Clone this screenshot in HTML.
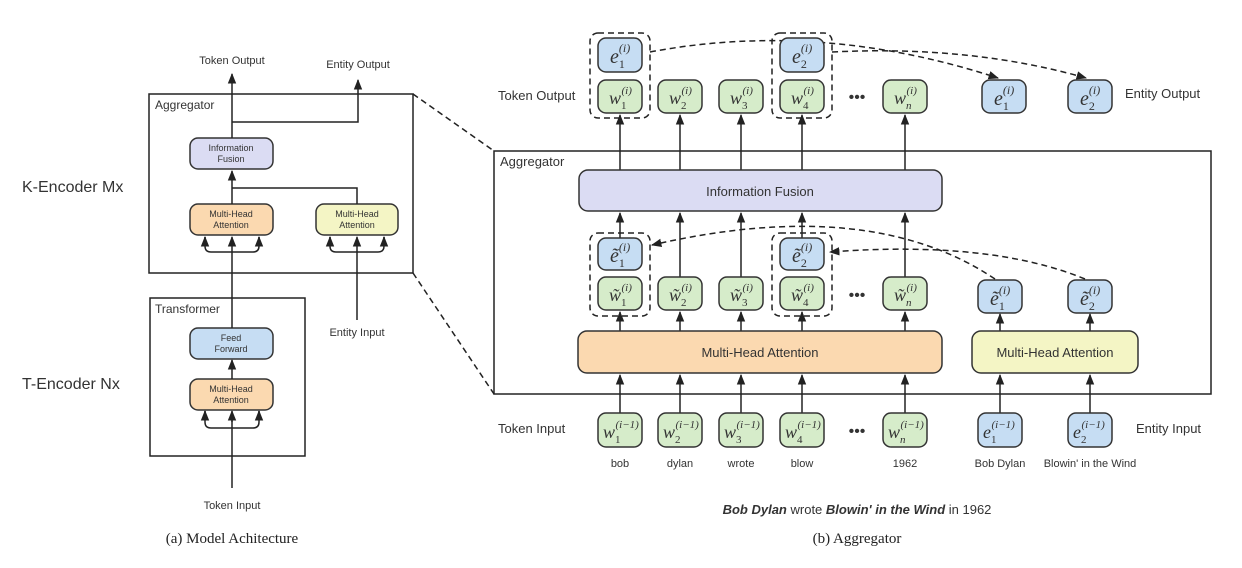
<!DOCTYPE html>
<html><head><meta charset="utf-8"><style>
body{margin:0;background:#fff}
svg{display:block}
.s{font-family:"Liberation Sans",sans-serif;fill:#333}
.m{font-family:"Liberation Serif",serif;font-style:italic;fill:#333}
.g{fill:#d6ecca;stroke:#333;stroke-width:1.5}
.b{fill:#c6ddf3;stroke:#333;stroke-width:1.5}
.l{fill:#dbdcf3;stroke:#333;stroke-width:1.5}
.o{fill:#fbd9b0;stroke:#333;stroke-width:1.5}
.y{fill:#f4f5c5;stroke:#333;stroke-width:1.5}
.ln{stroke:#222;stroke-width:1.5;fill:none}
.d{stroke:#222;stroke-width:1.5;fill:none;stroke-dasharray:6 4}
</style></head><body>
<svg width="1242" height="568" viewBox="0 0 1242 568" xmlns="http://www.w3.org/2000/svg">
<defs><marker id="a" viewBox="0 0 10 10" refX="9" refY="5" markerWidth="7" markerHeight="7" orient="auto-start-reverse"><path d="M0,1 L10,5 L0,9 z" fill="#222"/></marker></defs>

<!-- LEFT PANEL -->
<rect x="149" y="94" width="264" height="179" class="ln"/>
<rect x="150" y="298" width="155" height="158" class="ln"/>
<text x="155" y="109" class="s" font-size="12">Aggregator</text>
<text x="155" y="313" class="s" font-size="12">Transformer</text>
<text x="22" y="192" class="s" font-size="16">K-Encoder  Mx</text>
<text x="22" y="389" class="s" font-size="16">T-Encoder  Nx</text>
<text x="232" y="64" class="s" font-size="11" text-anchor="middle">Token Output</text>
<text x="358" y="68" class="s" font-size="11" text-anchor="middle">Entity Output</text>
<text x="232" y="509" class="s" font-size="11" text-anchor="middle">Token Input</text>
<text x="357" y="336" class="s" font-size="11" text-anchor="middle">Entity Input</text>

<line x1="232" y1="488" x2="232" y2="411" class="ln" marker-end="url(#a)"/>
<path d="M232,422 L232,416 M205,411 L205,422 Q205,428 211,428 L253,428 Q259,428 259,422 L259,411" class="ln"/>
<line x1="205" y1="420" x2="205" y2="411" class="ln" marker-end="url(#a)"/>
<line x1="259" y1="420" x2="259" y2="411" class="ln" marker-end="url(#a)"/>
<rect x="190" y="379" width="83" height="31" rx="8" class="o"/>
<text x="231" y="392" class="s" font-size="9" text-anchor="middle">Multi-Head</text>
<text x="231" y="403" class="s" font-size="9" text-anchor="middle">Attention</text>
<line x1="232" y1="379" x2="232" y2="360" class="ln" marker-end="url(#a)"/>
<rect x="190" y="328" width="83" height="31" rx="8" class="b"/>
<text x="231" y="341" class="s" font-size="9" text-anchor="middle">Feed</text>
<text x="231" y="352" class="s" font-size="9" text-anchor="middle">Forward</text>
<line x1="232" y1="328" x2="232" y2="237" class="ln" marker-end="url(#a)"/>
<path d="M205,237 L205,246 Q205,252 211,252 L253,252 Q259,252 259,246 L259,237" class="ln"/>
<line x1="205" y1="244" x2="205" y2="237" class="ln" marker-end="url(#a)"/>
<line x1="259" y1="244" x2="259" y2="237" class="ln" marker-end="url(#a)"/>
<rect x="190" y="204" width="83" height="31" rx="8" class="o"/>
<text x="231" y="217" class="s" font-size="9" text-anchor="middle">Multi-Head</text>
<text x="231" y="228" class="s" font-size="9" text-anchor="middle">Attention</text>
<line x1="357" y1="320" x2="357" y2="237" class="ln" marker-end="url(#a)"/>
<path d="M330,237 L330,246 Q330,252 336,252 L378,252 Q384,252 384,246 L384,237" class="ln"/>
<line x1="330" y1="244" x2="330" y2="237" class="ln" marker-end="url(#a)"/>
<line x1="384" y1="244" x2="384" y2="237" class="ln" marker-end="url(#a)"/>
<rect x="316" y="204" width="82" height="31" rx="8" class="y"/>
<text x="357" y="217" class="s" font-size="9" text-anchor="middle">Multi-Head</text>
<text x="357" y="228" class="s" font-size="9" text-anchor="middle">Attention</text>
<line x1="232" y1="204" x2="232" y2="171" class="ln" marker-end="url(#a)"/>
<path d="M357,204 L357,188 L232,188" class="ln"/>
<rect x="190" y="138" width="83" height="31" rx="8" class="l"/>
<text x="231" y="151" class="s" font-size="9" text-anchor="middle">Information</text>
<text x="231" y="162" class="s" font-size="9" text-anchor="middle">Fusion</text>
<line x1="232" y1="138" x2="232" y2="74" class="ln" marker-end="url(#a)"/>
<path d="M232,122 L358,122 L358,80" class="ln" marker-end="url(#a)"/>
<text x="232" y="543" font-family="Liberation Serif,serif" font-size="15" fill="#222" text-anchor="middle">(a) Model Achitecture</text>

<!-- zoom lines -->
<line x1="413" y1="94" x2="494" y2="151" class="d"/>
<line x1="413" y1="273" x2="494" y2="394" class="d"/>

<!-- RIGHT PANEL -->
<rect x="494" y="151" width="717" height="243" class="ln"/>
<text x="500" y="166" class="s" font-size="13">Aggregator</text>
<text x="498" y="100" class="s" font-size="13">Token Output</text>
<text x="1125" y="98" class="s" font-size="13">Entity Output</text>
<text x="498" y="433" class="s" font-size="13">Token Input</text>
<text x="1136" y="433" class="s" font-size="13">Entity Input</text>

<!-- arrows input -> MHA -->
<g class="ln">
<line x1="620" y1="413" x2="620" y2="375" marker-end="url(#a)"/>
<line x1="680" y1="413" x2="680" y2="375" marker-end="url(#a)"/>
<line x1="741" y1="413" x2="741" y2="375" marker-end="url(#a)"/>
<line x1="802" y1="413" x2="802" y2="375" marker-end="url(#a)"/>
<line x1="905" y1="413" x2="905" y2="375" marker-end="url(#a)"/>
<line x1="1000" y1="413" x2="1000" y2="375" marker-end="url(#a)"/>
<line x1="1090" y1="413" x2="1090" y2="375" marker-end="url(#a)"/>
<line x1="620" y1="331" x2="620" y2="312" marker-end="url(#a)"/>
<line x1="680" y1="331" x2="680" y2="312" marker-end="url(#a)"/>
<line x1="741" y1="331" x2="741" y2="312" marker-end="url(#a)"/>
<line x1="802" y1="331" x2="802" y2="312" marker-end="url(#a)"/>
<line x1="905" y1="331" x2="905" y2="312" marker-end="url(#a)"/>
<line x1="1000" y1="331" x2="1000" y2="314" marker-end="url(#a)"/>
<line x1="1090" y1="331" x2="1090" y2="314" marker-end="url(#a)"/>
<line x1="620" y1="238" x2="620" y2="213" marker-end="url(#a)"/>
<line x1="680" y1="277" x2="680" y2="213" marker-end="url(#a)"/>
<line x1="741" y1="277" x2="741" y2="213" marker-end="url(#a)"/>
<line x1="802" y1="238" x2="802" y2="213" marker-end="url(#a)"/>
<line x1="905" y1="277" x2="905" y2="213" marker-end="url(#a)"/>
<line x1="620" y1="170" x2="620" y2="115" marker-end="url(#a)"/>
<line x1="680" y1="170" x2="680" y2="115" marker-end="url(#a)"/>
<line x1="741" y1="170" x2="741" y2="115" marker-end="url(#a)"/>
<line x1="802" y1="170" x2="802" y2="115" marker-end="url(#a)"/>
<line x1="905" y1="170" x2="905" y2="115" marker-end="url(#a)"/>
</g>

<rect x="579" y="170" width="363" height="41" rx="9" class="l"/>
<text x="760" y="196" class="s" font-size="13" text-anchor="middle">Information Fusion</text>
<rect x="578" y="331" width="364" height="42" rx="9" class="o"/>
<text x="760" y="357" class="s" font-size="13" text-anchor="middle">Multi-Head Attention</text>
<rect x="972" y="331" width="166" height="42" rx="9" class="y"/>
<text x="1055" y="357" class="s" font-size="13" text-anchor="middle">Multi-Head Attention</text>

<!-- dashed groups -->
<rect x="590" y="33" width="60" height="85" rx="8" class="d"/>
<rect x="772" y="33" width="60" height="85" rx="8" class="d"/>
<rect x="590" y="233" width="60" height="83" rx="8" class="d"/>
<rect x="772" y="233" width="60" height="83" rx="8" class="d"/>

<!-- dashed curves -->
<path d="M650,52 Q820,20 998,78" class="d" marker-end="url(#a)"/>
<path d="M832,52 Q970,45 1086,78" class="d" marker-end="url(#a)"/>
<path d="M995,279 Q870,195 652,245" class="d" marker-end="url(#a)"/>
<path d="M1085,279 Q990,240 830,252" class="d" marker-end="url(#a)"/>

<!-- top row -->
<rect x="598" y="80" width="44" height="33" rx="8" class="g"/>
<text x="609" y="104" class="m" font-size="18">w<tspan font-size="11" font-style="normal" dy="5">1</tspan><tspan font-size="11" dy="-15" dx="-5">(i)</tspan></text>
<rect x="658" y="80" width="44" height="33" rx="8" class="g"/>
<text x="669" y="104" class="m" font-size="18">w<tspan font-size="11" font-style="normal" dy="5">2</tspan><tspan font-size="11" dy="-15" dx="-5">(i)</tspan></text>
<rect x="719" y="80" width="44" height="33" rx="8" class="g"/>
<text x="730" y="104" class="m" font-size="18">w<tspan font-size="11" font-style="normal" dy="5">3</tspan><tspan font-size="11" dy="-15" dx="-5">(i)</tspan></text>
<rect x="780" y="80" width="44" height="33" rx="8" class="g"/>
<text x="791" y="104" class="m" font-size="18">w<tspan font-size="11" font-style="normal" dy="5">4</tspan><tspan font-size="11" dy="-15" dx="-5">(i)</tspan></text>
<text x="857" y="102" class="s" font-size="16" text-anchor="middle">•••</text>
<rect x="883" y="80" width="44" height="33" rx="8" class="g"/>
<text x="894" y="104" class="m" font-size="18">w<tspan font-size="11" dy="5">n</tspan><tspan font-size="11" dy="-15" dx="-5">(i)</tspan></text>
<rect x="598" y="38" width="44" height="34" rx="8" class="b"/>
<text x="610" y="63" class="m" font-size="20">e<tspan font-size="12" font-style="normal" dy="5">1</tspan><tspan font-size="12" dy="-16" dx="-6">(i)</tspan></text>
<rect x="780" y="38" width="44" height="34" rx="8" class="b"/>
<text x="792" y="63" class="m" font-size="20">e<tspan font-size="12" font-style="normal" dy="5">2</tspan><tspan font-size="12" dy="-16" dx="-6">(i)</tspan></text>
<rect x="982" y="80" width="44" height="33" rx="8" class="b"/>
<text x="994" y="105" class="m" font-size="20">e<tspan font-size="12" font-style="normal" dy="5">1</tspan><tspan font-size="12" dy="-16" dx="-6">(i)</tspan></text>
<rect x="1068" y="80" width="44" height="33" rx="8" class="b"/>
<text x="1080" y="105" class="m" font-size="20">e<tspan font-size="12" font-style="normal" dy="5">2</tspan><tspan font-size="12" dy="-16" dx="-6">(i)</tspan></text>

<!-- tilde row -->
<rect x="598" y="238" width="44" height="32" rx="8" class="b"/>
<text x="610" y="262" class="m" font-size="20">ẽ<tspan font-size="12" font-style="normal" dy="5">1</tspan><tspan font-size="12" dy="-16" dx="-6">(i)</tspan></text>
<rect x="780" y="238" width="44" height="32" rx="8" class="b"/>
<text x="792" y="262" class="m" font-size="20">ẽ<tspan font-size="12" font-style="normal" dy="5">2</tspan><tspan font-size="12" dy="-16" dx="-6">(i)</tspan></text>
<rect x="598" y="277" width="44" height="33" rx="8" class="g"/>
<text x="609" y="301" class="m" font-size="18">w̃<tspan font-size="11" font-style="normal" dy="5">1</tspan><tspan font-size="11" dy="-15" dx="-5">(i)</tspan></text>
<rect x="658" y="277" width="44" height="33" rx="8" class="g"/>
<text x="669" y="301" class="m" font-size="18">w̃<tspan font-size="11" font-style="normal" dy="5">2</tspan><tspan font-size="11" dy="-15" dx="-5">(i)</tspan></text>
<rect x="719" y="277" width="44" height="33" rx="8" class="g"/>
<text x="730" y="301" class="m" font-size="18">w̃<tspan font-size="11" font-style="normal" dy="5">3</tspan><tspan font-size="11" dy="-15" dx="-5">(i)</tspan></text>
<rect x="780" y="277" width="44" height="33" rx="8" class="g"/>
<text x="791" y="301" class="m" font-size="18">w̃<tspan font-size="11" font-style="normal" dy="5">4</tspan><tspan font-size="11" dy="-15" dx="-5">(i)</tspan></text>
<text x="857" y="300" class="s" font-size="16" text-anchor="middle">•••</text>
<rect x="883" y="277" width="44" height="33" rx="8" class="g"/>
<text x="894" y="301" class="m" font-size="18">w̃<tspan font-size="11" dy="5">n</tspan><tspan font-size="11" dy="-15" dx="-5">(i)</tspan></text>
<rect x="978" y="280" width="44" height="33" rx="8" class="b"/>
<text x="990" y="305" class="m" font-size="20">ẽ<tspan font-size="12" font-style="normal" dy="5">1</tspan><tspan font-size="12" dy="-16" dx="-6">(i)</tspan></text>
<rect x="1068" y="280" width="44" height="33" rx="8" class="b"/>
<text x="1080" y="305" class="m" font-size="20">ẽ<tspan font-size="12" font-style="normal" dy="5">2</tspan><tspan font-size="12" dy="-16" dx="-6">(i)</tspan></text>

<!-- input row -->
<rect x="598" y="413" width="44" height="34" rx="8" class="g"/>
<text x="603" y="438" class="m" font-size="18">w<tspan font-size="11" font-style="normal" dy="5">1</tspan><tspan font-size="11" dy="-15" dx="-5">(i−1)</tspan></text>
<rect x="658" y="413" width="44" height="34" rx="8" class="g"/>
<text x="663" y="438" class="m" font-size="18">w<tspan font-size="11" font-style="normal" dy="5">2</tspan><tspan font-size="11" dy="-15" dx="-5">(i−1)</tspan></text>
<rect x="719" y="413" width="44" height="34" rx="8" class="g"/>
<text x="724" y="438" class="m" font-size="18">w<tspan font-size="11" font-style="normal" dy="5">3</tspan><tspan font-size="11" dy="-15" dx="-5">(i−1)</tspan></text>
<rect x="780" y="413" width="44" height="34" rx="8" class="g"/>
<text x="785" y="438" class="m" font-size="18">w<tspan font-size="11" font-style="normal" dy="5">4</tspan><tspan font-size="11" dy="-15" dx="-5">(i−1)</tspan></text>
<text x="857" y="436" class="s" font-size="16" text-anchor="middle">•••</text>
<rect x="883" y="413" width="44" height="34" rx="8" class="g"/>
<text x="888" y="438" class="m" font-size="18">w<tspan font-size="11" dy="5">n</tspan><tspan font-size="11" dy="-15" dx="-5">(i−1)</tspan></text>
<rect x="978" y="413" width="44" height="34" rx="8" class="b"/>
<text x="983" y="438" class="m" font-size="18">e<tspan font-size="11" font-style="normal" dy="5">1</tspan><tspan font-size="11" dy="-15" dx="-5">(i−1)</tspan></text>
<rect x="1068" y="413" width="44" height="34" rx="8" class="b"/>
<text x="1073" y="438" class="m" font-size="18">e<tspan font-size="11" font-style="normal" dy="5">2</tspan><tspan font-size="11" dy="-15" dx="-5">(i−1)</tspan></text>

<g class="s" font-size="11" text-anchor="middle">
<text x="620" y="467">bob</text>
<text x="680" y="467">dylan</text>
<text x="741" y="467">wrote</text>
<text x="802" y="467">blow</text>
<text x="905" y="467">1962</text>
<text x="1000" y="467">Bob Dylan</text>
<text x="1090" y="467">Blowin' in the Wind</text>
</g>
<text x="857" y="514" class="s" font-size="13" text-anchor="middle" fill="#111"><tspan font-weight="bold" font-style="italic">Bob Dylan</tspan> wrote <tspan font-weight="bold" font-style="italic">Blowin' in the Wind</tspan> in 1962</text>
<text x="857" y="543" font-family="Liberation Serif,serif" font-size="15" fill="#222" text-anchor="middle">(b) Aggregator</text>
</svg>
</body></html>
